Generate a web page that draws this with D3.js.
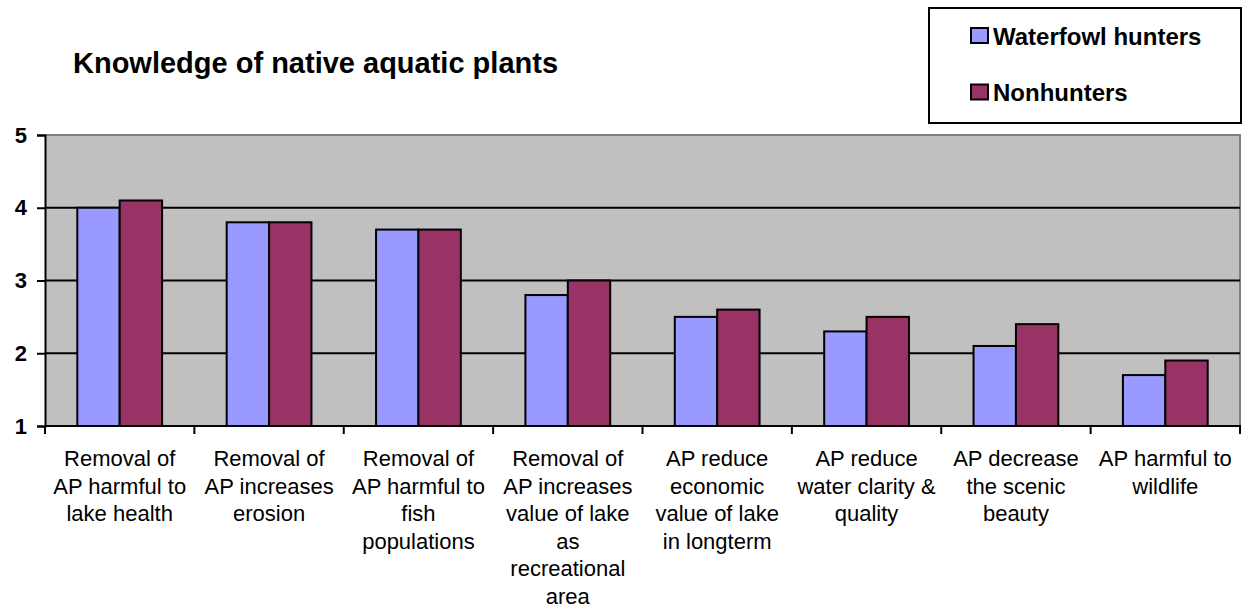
<!DOCTYPE html>
<html>
<head>
<meta charset="utf-8">
<script src="https://cdn.jsdelivr.net/npm/d3@7"></script>
<style>
  body { margin: 0; background: #fff; }
  text { font-family: "Liberation Sans", Arial, sans-serif; }
</style>
</head>
<body>
<div id="chart"></div>
<script>
// chart size
var w = 1245;
var h = 613;

// data
var categories = [
  ["Removal of", "AP harmful to", "lake health"],
  ["Removal of", "AP increases", "erosion"],
  ["Removal of", "AP harmful to", "fish", "populations"],
  ["Removal of", "AP increases", "value of lake", "as", "recreational", "area"],
  ["AP reduce", "economic", "value of lake", "in longterm"],
  ["AP reduce", "water clarity &", "quality"],
  ["AP decrease", "the scenic", "beauty"],
  ["AP harmful to", "wildlife"]
];
var seriesNames = ["Waterfowl hunters", "Nonhunters"];
var hunters = [4.0, 3.8, 3.7, 2.8, 2.5, 2.3, 2.1, 1.7];
var nonhunters = [4.1, 3.8, 3.7, 3.0, 2.6, 2.5, 2.4, 1.9];
var yTicks = [1, 2, 3, 4, 5];
var colors = ["#9999FF", "#993366"];

// plot area edges
var plotLeft = 45, plotRight = 1240, plotTop = 135, plotBottom = 426;

var svg = d3.select("#chart")
  .append("svg")
  .attr("width", w)
  .attr("height", h);

// scales
var xScale = d3.scaleBand()
  .domain(d3.range(categories.length))
  .range([plotLeft, plotRight])
  .paddingInner(0)
  .paddingOuter(0);

var xInner = d3.scaleBand()
  .domain(seriesNames)
  .range([32.3, xScale.bandwidth() - 32.3]);

var yScale = d3.scaleLinear()
  .domain([1, 5])
  .range([plotBottom, plotTop]);

// plot background
svg.append("rect")
  .attr("x", plotLeft)
  .attr("y", plotTop)
  .attr("width", plotRight - plotLeft)
  .attr("height", plotBottom - plotTop)
  .attr("fill", "#C0C0C0");

// gray frame on top and right
svg.append("path")
  .attr("d", "M" + plotLeft + "," + plotTop + "H" + plotRight + "V" + plotBottom)
  .attr("fill", "none")
  .attr("stroke", "#808080")
  .attr("stroke-width", 2);

// gridlines
svg.append("g")
  .selectAll("line")
  .data(yTicks.slice(1, 4))
  .join("line")
  .attr("x1", plotLeft)
  .attr("x2", plotRight)
  .attr("y1", d => yScale(d))
  .attr("y2", d => yScale(d))
  .attr("stroke", "#000")
  .attr("stroke-width", 2);

// bars
var rows = categories.map((c, i) => [
  { cat: i, name: seriesNames[0], value: hunters[i], color: colors[0] },
  { cat: i, name: seriesNames[1], value: nonhunters[i], color: colors[1] }
]);

svg.append("g")
  .selectAll("g")
  .data(rows)
  .join("g")
  .attr("transform", (d, i) => "translate(" + xScale(i) + ",0)")
  .selectAll("rect")
  .data(d => d)
  .join("rect")
  .attr("x", d => xInner(d.name))
  .attr("y", d => yScale(d.value))
  .attr("width", xInner.bandwidth())
  .attr("height", d => yScale(1) - yScale(d.value))
  .attr("fill", d => d.color)
  .attr("stroke", "#000")
  .attr("stroke-width", 2);

// y axis
var yAxis = d3.axisLeft(yScale)
  .tickValues(yTicks)
  .tickFormat(d3.format("d"))
  .tickSize(8)
  .tickPadding(10);

var yg = svg.append("g")
  .attr("transform", "translate(" + plotLeft + ",0)")
  .call(yAxis);
yg.select(".domain").attr("stroke-width", 2);
yg.selectAll(".tick line").attr("stroke-width", 2);
yg.selectAll("text")
  .attr("font-size", 22)
  .attr("font-weight", "bold")
  .attr("font-family", "Liberation Sans, Arial, sans-serif")
  .attr("fill", "#000");

// x axis (ticks at category boundaries)
var boundaries = d3.range(categories.length + 1).map(i => plotLeft + i * xScale.bandwidth());
svg.append("line")
  .attr("x1", plotLeft)
  .attr("x2", plotRight + 1)
  .attr("y1", plotBottom)
  .attr("y2", plotBottom)
  .attr("stroke", "#000")
  .attr("stroke-width", 2);
svg.append("g")
  .selectAll("line")
  .data(boundaries)
  .join("line")
  .attr("x1", d => d)
  .attr("x2", d => d)
  .attr("y1", plotBottom)
  .attr("y2", plotBottom + 8)
  .attr("stroke", "#000")
  .attr("stroke-width", 2);

// category labels
svg.append("g")
  .selectAll("text")
  .data(categories)
  .join("text")
  .attr("x", (d, i) => xScale(i) + xScale.bandwidth() / 2)
  .attr("y", plotBottom + 40)
  .attr("text-anchor", "middle")
  .attr("font-size", 22)
  .attr("fill", "#000")
  .selectAll("tspan")
  .data(d => d)
  .join("tspan")
  .attr("x", function() { return this.parentNode.getAttribute("x"); })
  .attr("dy", (d, i) => i === 0 ? 0 : 27.6)
  .text(d => d);

// title
svg.append("text")
  .attr("x", 73)
  .attr("y", 73)
  .attr("font-size", 29)
  .attr("font-weight", "bold")
  .attr("fill", "#000")
  .text("Knowledge of native aquatic plants");

// legend
var legend = svg.append("g");
legend.append("rect")
  .attr("x", 929)
  .attr("y", 8)
  .attr("width", 312)
  .attr("height", 115)
  .attr("fill", "#fff")
  .attr("stroke", "#000")
  .attr("stroke-width", 2);

var items = legend.selectAll("g")
  .data(seriesNames)
  .join("g")
  .attr("transform", (d, i) => "translate(971," + (28 + i * 56.5) + ")");
items.append("rect")
  .attr("width", 17)
  .attr("height", 15)
  .attr("fill", (d, i) => colors[i])
  .attr("stroke", "#000")
  .attr("stroke-width", 2);
items.append("text")
  .attr("x", 22)
  .attr("y", 16.5)
  .attr("font-size", 24)
  .attr("font-weight", "bold")
  .attr("fill", "#000")
  .text(d => d);
</script>
</body>
</html>
